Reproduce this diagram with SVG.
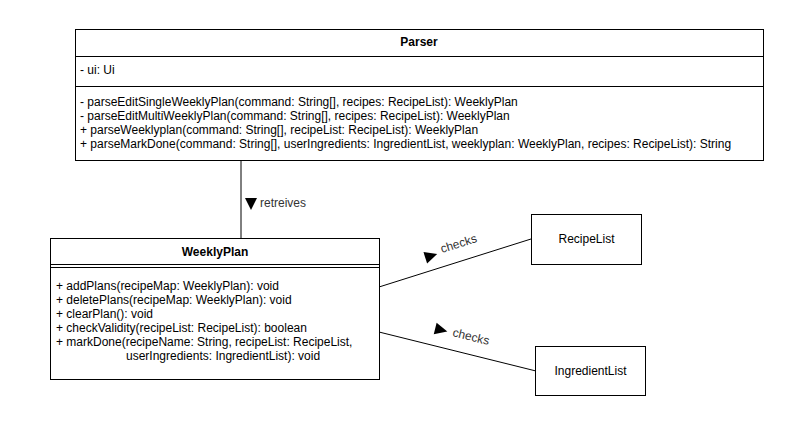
<svg xmlns="http://www.w3.org/2000/svg" width="803" height="440" viewBox="0 0 803 440">
<style>
text{font-family:"Liberation Sans",Arial,sans-serif;font-size:12px;fill:#000}
.t{font-weight:bold;text-anchor:middle}
.c{text-anchor:middle}
.box{fill:#fff;stroke:#000;stroke-width:1}
.div{stroke:#000;stroke-width:1;fill:none}
.edge{stroke:#000;stroke-width:1;fill:none}
.lbl{fill:#333}
.tri{fill:#000}
</style>
<rect width="803" height="440" fill="#fff"/>
<g id="connectors">
<line class="edge" x1="241" y1="160" x2="241" y2="238"/>
<polygon class="tri" points="245,198 257,198 251,210"/>
<text class="lbl" x="260" y="207">retreives</text>
<line class="edge" x1="379" y1="287" x2="531" y2="239"/>
<polygon class="tri" points="-6,-6 6.5,0 -6,6" transform="translate(431,256) rotate(-17.5)"/>
<text class="lbl" x="442" y="253" transform="rotate(-17.5 442 253)">checks</text>
<line class="edge" x1="379" y1="332" x2="536" y2="371"/>
<polygon class="tri" points="-6,-6 6.5,0 -6,6" transform="translate(441,330) rotate(14)"/>
<text class="lbl" x="452" y="336" transform="rotate(14 452 336)">checks</text>
</g>
<g id="Parser">
<rect class="box" x="75.5" y="29.5" width="688" height="131"/>
<line class="div" x1="75.5" y1="56.5" x2="763.5" y2="56.5"/>
<line class="div" x1="75.5" y1="86.5" x2="763.5" y2="86.5"/>
<text class="t" x="419" y="46">Parser</text>
<text x="80" y="74">- ui: Ui</text>
<text x="80" y="106">- parseEditSingleWeeklyPlan(command: String[], recipes: RecipeList): WeeklyPlan</text>
<text x="80" y="120">- parseEditMultiWeeklyPlan(command: String[], recipes: RecipeList): WeeklyPlan</text>
<text x="80" y="134">+ parseWeeklyplan(command: String[], recipeList: RecipeList): WeeklyPlan</text>
<text x="80" y="148">+ parseMarkDone(command: String[], userIngredients: IngredientList, weeklyplan: WeeklyPlan, recipes: RecipeList): String</text>
</g>
<g id="WeeklyPlan">
<rect class="box" x="50.5" y="238.5" width="329" height="141"/>
<line class="div" x1="50.5" y1="264.5" x2="379.5" y2="264.5"/>
<line class="div" x1="50.5" y1="267.5" x2="379.5" y2="267.5"/>
<text class="t" x="215" y="256">WeeklyPlan</text>
<text x="56" y="290">+ addPlans(recipeMap: WeeklyPlan): void</text>
<text x="56" y="304">+ deletePlans(recipeMap: WeeklyPlan): void</text>
<text x="56" y="318">+ clearPlan(): void</text>
<text x="56" y="332">+ checkValidity(recipeList: RecipeList): boolean</text>
<text x="56" y="346">+ markDone(recipeName: String, recipeList: RecipeList,</text>
<text x="126" y="360">userIngredients: IngredientList): void</text>
</g>
<g id="RecipeList">
<rect class="box" x="531.5" y="214.5" width="110" height="50"/>
<text class="c" x="586.5" y="243">RecipeList</text>
</g>
<g id="IngredientList">
<rect class="box" x="535.5" y="346.5" width="110" height="49"/>
<text class="c" x="590.5" y="375">IngredientList</text>
</g>
</svg>
